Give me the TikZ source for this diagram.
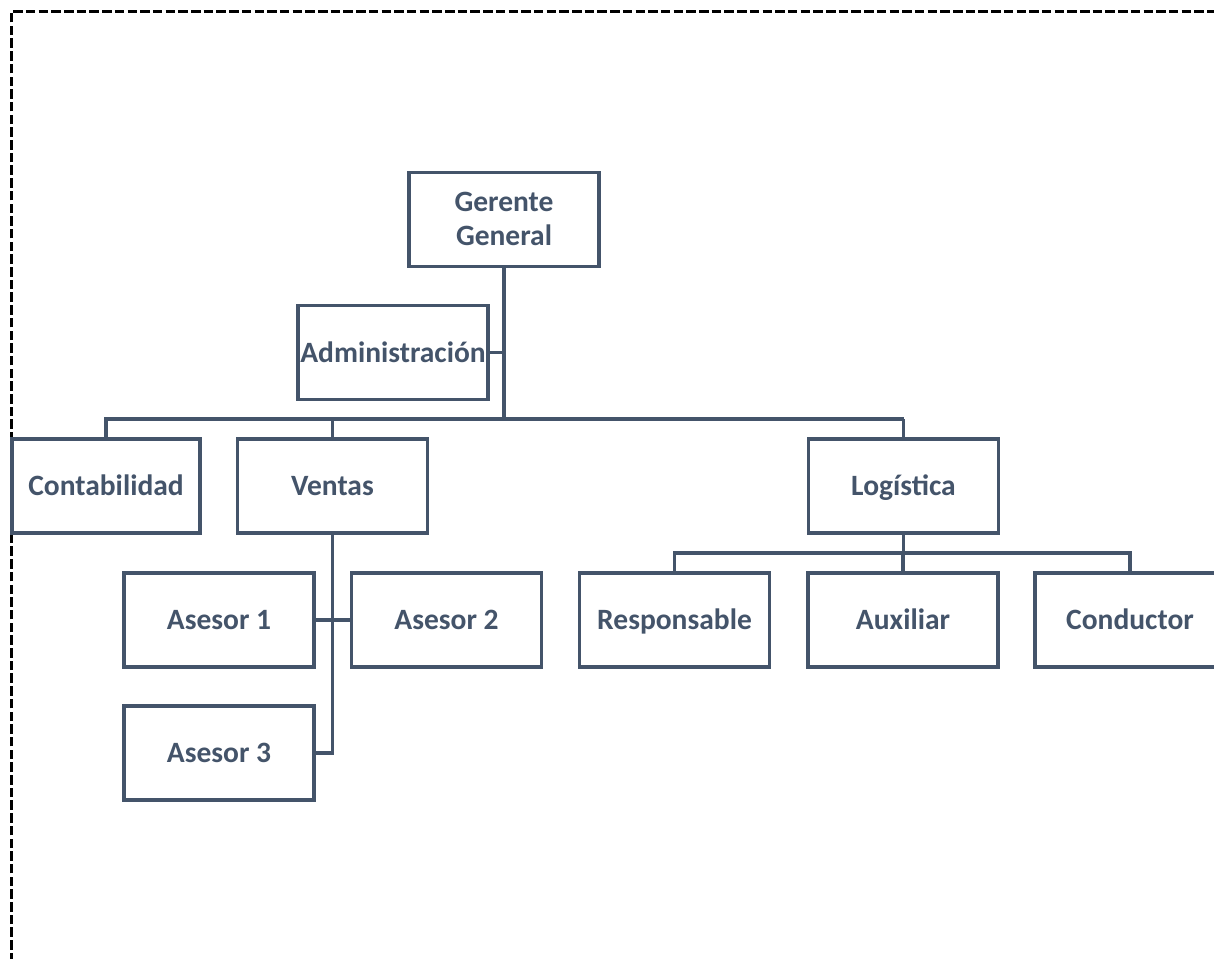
\documentclass[tikz,border=0pt]{standalone}
\usepackage{fontspec}
\setmainfont{Carlito}
\definecolor{slate}{HTML}{44546A}
\begin{document}
\begin{tikzpicture}[x=1pt,y=-1pt,
  unit/.style={draw=slate, line width=3.5pt, fill=white, inner sep=0pt,
    minimum width=190pt, minimum height=94pt, align=center,
    text height=19pt, text depth=0pt,
    text=slate, font=\fontsize{29.5}{34}\selectfont\bfseries},
  link/.style={draw=slate, line width=3.5pt},
  frame/.style={draw=black, line width=3pt, dash pattern=on 9.5pt off 3.2pt}]
\useasboundingbox (0,0) rectangle (1214,958);
\begin{scope}
\clip (0,0) rectangle (1214,958);
% dashed page frame
\draw[frame] (11,975) -- (11,12) -- (1230,12);

% boxes
\node[unit, text height=53pt, text depth=1pt] (ger) at (504,219.5) {Gerente\\General};
\node[unit] (adm) at (393,352.5) {Administración};
\node[unit, minimum width=188pt] (cont) at (106,486) {Contabilidad};
\node[unit] (ven) at (332.5,486) {Ventas};
\node[unit] (log) at (903.5,486) {Logística};
\node[unit] (as1) at (219,620) {Asesor 1};
\node[unit] (as2) at (446.5,620) {Asesor 2};
\node[unit] (as3) at (219,753) {Asesor 3};
\node[unit] (resp) at (674.5,620) {Responsable};
\node[unit] (aux) at (903,620) {Auxiliar};
\node[unit] (cond) at (1130,620) {Conductor};

\coordinate (bus) at (0,419);
\coordinate (lbus) at (0,553);

% top level
\draw[link] (ger.south) -- (ger.south |- bus);
\draw[link] (adm.east) -- (adm.east -| ger.south);
\draw[link] (cont.north) |- (log.north |- bus);
\draw[link] (ven.north) -- (ven.north |- bus);
\draw[link] (log.north) -- (log.north |- bus);

% sales
\draw[link] (ven.south) |- (as3.east);
\draw[link] (as1.east) -- (as2.west);

% logistics
\draw[link] (log.south) -- (log.south |- lbus);
\draw[link] (resp.north) |- (cond.north |- lbus) -- (cond.north);
\draw[link] (aux.north) -- (aux.north |- lbus);
\end{scope}
\end{tikzpicture}
\end{document}
